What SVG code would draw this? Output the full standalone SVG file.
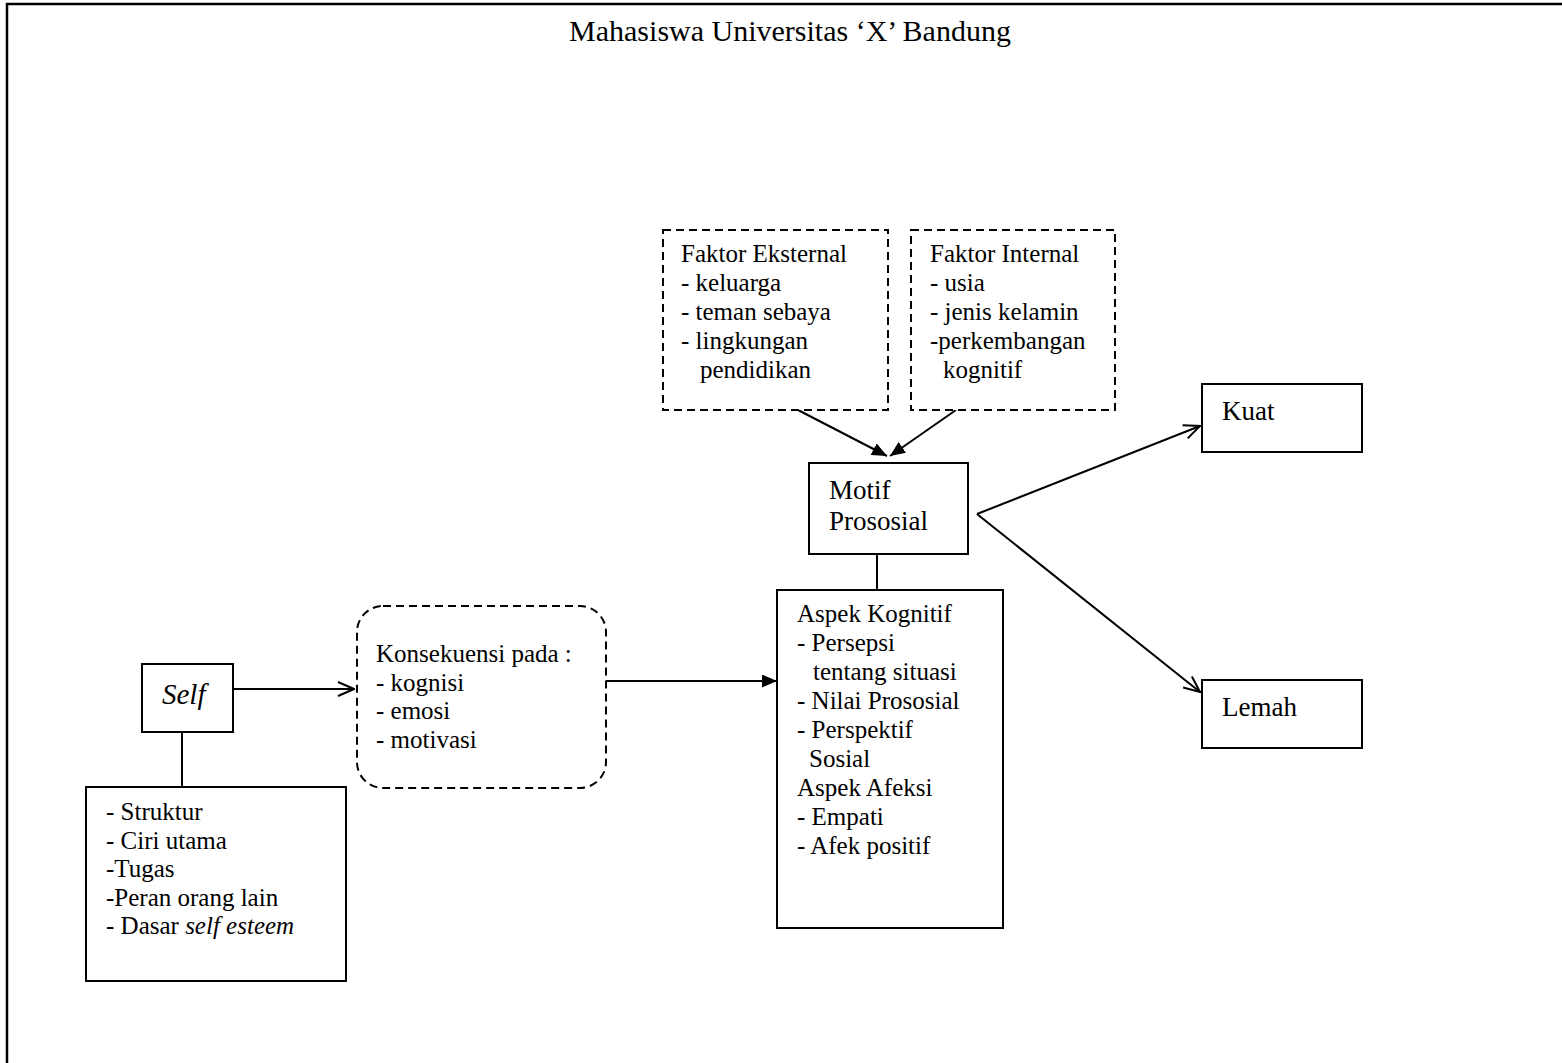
<svg xmlns="http://www.w3.org/2000/svg" width="1562" height="1063" viewBox="0 0 1562 1063">
<style>
text{font-family:"Liberation Serif","Times New Roman",serif;fill:#000;font-size:25px}
.box{fill:#fff;stroke:#000;stroke-width:2}
.dash{fill:#fff;stroke:#000;stroke-width:2;stroke-dasharray:8 5}
.ln{fill:none;stroke:#000;stroke-width:2}
.big{font-size:27px}
.title{font-size:30px}
.self{font-size:29px;font-style:italic}
</style>
<defs>
<marker id="fill" viewBox="0 0 15 13" refX="15" refY="6.5" markerWidth="15" markerHeight="13" markerUnits="userSpaceOnUse" orient="auto">
<path d="M0,0 L15,6.5 L0,13 Z" fill="#000"/>
</marker>
<marker id="open" viewBox="0 0 18 16" refX="17" refY="8" markerWidth="18" markerHeight="16" markerUnits="userSpaceOnUse" orient="auto">
<path d="M1,1 L17,8 L1,15" fill="none" stroke="#000" stroke-width="2"/>
</marker>
</defs>
<rect width="1562" height="1063" fill="#fff"/>
<path d="M7,1063 V4 H1562" fill="none" stroke="#000" stroke-width="2.5"/>
<text id="title" class="title" x="790" y="41" text-anchor="middle">Mahasiswa Universitas ‘X’ Bandung</text>

<g id="connectors">
<line class="ln" x1="798" y1="410" x2="887" y2="456" marker-end="url(#fill)"/>
<line class="ln" x1="956" y1="410" x2="890" y2="456" marker-end="url(#fill)"/>
<line class="ln" x1="877" y1="554" x2="877" y2="590"/>
<line class="ln" x1="605" y1="681" x2="777" y2="681" marker-end="url(#fill)"/>
<line class="ln" x1="233" y1="689" x2="354" y2="689" marker-end="url(#open)"/>
<line class="ln" x1="182" y1="732" x2="182" y2="787"/>
<line class="ln" x1="977" y1="514" x2="1200" y2="426" marker-end="url(#open)"/>
<line class="ln" x1="977" y1="514" x2="1200" y2="692" marker-end="url(#open)"/>
</g>

<g id="faktor-eksternal">
<rect class="dash" x="663" y="230" width="225" height="180"/>
<text x="681" y="262">Faktor Eksternal</text>
<text x="681" y="291">- keluarga</text>
<text x="681" y="320">- teman sebaya</text>
<text x="681" y="349">- lingkungan</text>
<text x="700" y="378">pendidikan</text>
</g>

<g id="faktor-internal">
<rect class="dash" x="911" y="230" width="204" height="180"/>
<text x="930" y="262">Faktor Internal</text>
<text x="930" y="291">- usia</text>
<text x="930" y="320">- jenis kelamin</text>
<text x="930" y="349">-perkembangan</text>
<text x="943" y="378">kognitif</text>
</g>

<g id="motif">
<rect class="box" x="809" y="463" width="159" height="91"/>
<text class="big" x="829" y="499">Motif</text>
<text class="big" x="829" y="530">Prososial</text>
</g>

<g id="aspek">
<rect class="box" x="777" y="590" width="226" height="338"/>
<text x="797" y="622">Aspek Kognitif</text>
<text x="797" y="651">- Persepsi</text>
<text x="813" y="680">tentang situasi</text>
<text x="797" y="709">- Nilai Prososial</text>
<text x="797" y="738">- Perspektif</text>
<text x="809" y="767">Sosial</text>
<text x="797" y="796">Aspek Afeksi</text>
<text x="797" y="825">- Empati</text>
<text x="797" y="854">- Afek positif</text>
</g>

<g id="konsekuensi">
<rect class="dash" x="357" y="606" width="249" height="182" rx="26" ry="26"/>
<text x="376" y="662">Konsekuensi pada :</text>
<text x="376" y="690.5">- kognisi</text>
<text x="376" y="719">- emosi</text>
<text x="376" y="747.5">- motivasi</text>
</g>

<g id="self">
<rect class="box" x="142" y="664" width="91" height="68"/>
<text class="self" x="162" y="704">Self</text>
</g>

<g id="self-detail">
<rect class="box" x="86" y="787" width="260" height="194"/>
<text x="106" y="820">- Struktur</text>
<text x="106" y="848.5">- Ciri utama</text>
<text x="106" y="877">-Tugas</text>
<text x="106" y="905.5">-Peran orang lain</text>
<text x="106" y="934">- Dasar <tspan font-style="italic">self esteem</tspan></text>
</g>

<g id="kuat">
<rect class="box" x="1202" y="384" width="160" height="68"/>
<text class="big" x="1222" y="420">Kuat</text>
</g>

<g id="lemah">
<rect class="box" x="1202" y="680" width="160" height="68"/>
<text class="big" x="1222" y="716">Lemah</text>
</g>
</svg>
